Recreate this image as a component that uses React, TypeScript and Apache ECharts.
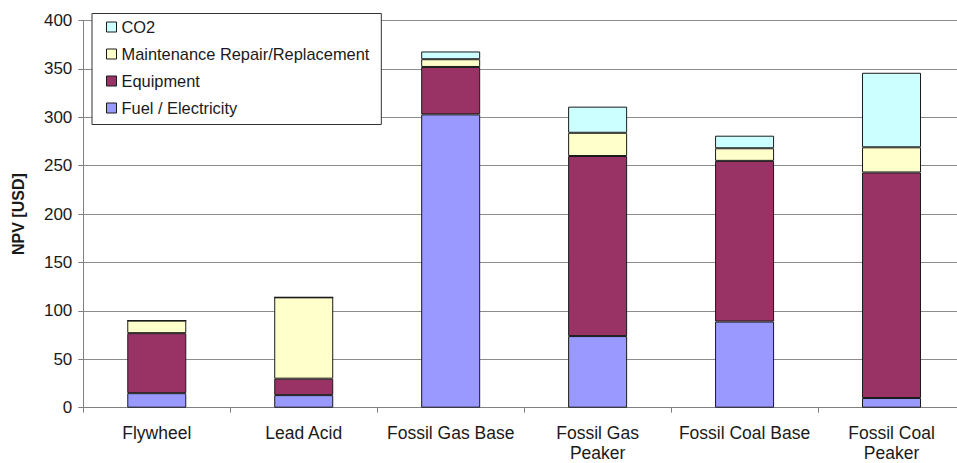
import React, { useEffect, useRef } from "react";
import * as echarts from "echarts";

// Net present value breakdown per storage / generation option (USD)
const categories = [
  "Flywheel",
  "Lead Acid",
  "Fossil Gas Base",
  "Fossil Gas\nPeaker",
  "Fossil Coal Base",
  "Fossil Coal\nPeaker",
];
const fuelElectricity = [15, 13, 303, 74, 89, 10];
const equipment = [62, 17, 49, 186, 166, 233];
const maintenance = [13, 84, 8, 24, 13, 26];
const co2 = [0, 0, 8, 27, 13, 77];

const yTicks = { min: 0, max: 400, interval: 50 };

const FONT = "'Liberation Sans', Arial, sans-serif";
const TEXT = "#1a1a1a";

export default function App() {
  const ref = useRef<HTMLDivElement>(null);

  useEffect(() => {
    if (!ref.current) return;
    const chart = echarts.init(ref.current, undefined, { renderer: "svg" });

    const barStyle = (color: string) => ({
      color,
      borderColor: "#1a1a1a",
      borderWidth: 1,
    });

    const makeSeries = (name: string, data: number[], color: string) => ({
      name,
      type: "bar" as const,
      stack: "npv",
      data,
      barWidth: 59,
      itemStyle: barStyle(color),
      emphasis: { disabled: true },
    });

    chart.setOption({
      animation: false,
      textStyle: { fontFamily: FONT, color: TEXT },
      grid: { left: 83.3, top: 20.5, right: 0, bottom: 55.3, containLabel: false },
      legend: {
        orient: "vertical",
        left: 92,
        top: 13.5,
        padding: [5, 12, 8, 14],
        backgroundColor: "#ffffff",
        borderColor: "#333333",
        borderWidth: 1,
        itemWidth: 10,
        itemHeight: 10,
        itemGap: 10,
        icon: "rect",
        itemStyle: { borderColor: "#1a1a1a", borderWidth: 1 },
        textStyle: { fontFamily: FONT, fontSize: 16.4, color: TEXT, lineHeight: 17 },
        data: ["CO2", "Maintenance Repair/Replacement", "Equipment", "Fuel / Electricity"],
      },
      xAxis: {
        type: "category",
        data: categories,
        axisLine: { show: true, lineStyle: { color: "#808080", width: 1 } },
        axisTick: { show: true, length: 5, lineStyle: { color: "#808080" } },
        axisLabel: {
          interval: 0,
          margin: 15,
          fontFamily: FONT,
          fontSize: 17.5,
          lineHeight: 20,
          color: TEXT,
        },
      },
      yAxis: {
        type: "value",
        min: yTicks.min,
        max: yTicks.max,
        interval: yTicks.interval,
        name: "NPV [USD]",
        nameLocation: "middle",
        nameRotate: 90,
        nameGap: 57,
        nameTextStyle: { fontFamily: FONT, fontSize: 16, fontWeight: "bold", color: TEXT },
        axisLine: { show: true, lineStyle: { color: "#808080", width: 1 } },
        axisTick: { show: true, length: 5, lineStyle: { color: "#808080" } },
        axisLabel: { margin: 11, fontFamily: FONT, fontSize: 17, color: TEXT },
        splitLine: { show: true, lineStyle: { color: "#8c8c8c", width: 1 } },
      },
      series: [
        makeSeries("Fuel / Electricity", fuelElectricity, "#9999ff"),
        makeSeries("Equipment", equipment, "#993366"),
        makeSeries("Maintenance Repair/Replacement", maintenance, "#ffffcc"),
        makeSeries("CO2", co2, "#ccffff"),
      ],
    });

    return () => chart.dispose();
  }, []);

  return (
    <div
      style={{
        position: "absolute",
        left: 0,
        top: 0,
        width: 957,
        height: 463,
        overflow: "hidden",
      }}
    >
      <div ref={ref} style={{ width: 965, height: 463 }} />
    </div>
  );
}
